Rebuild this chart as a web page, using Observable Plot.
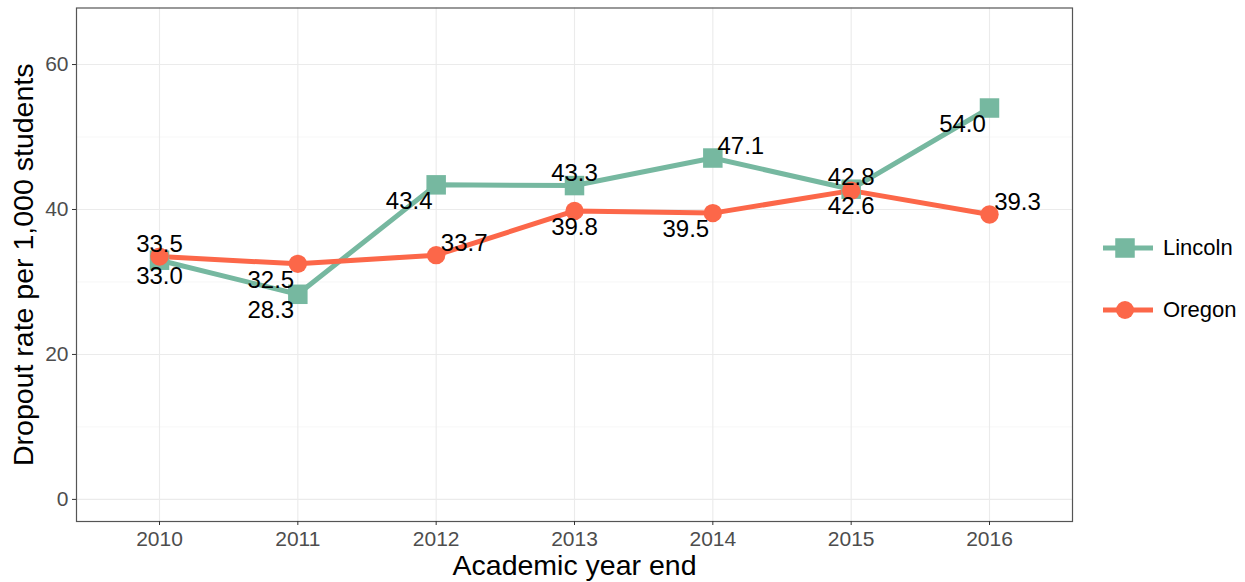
<!DOCTYPE html>
<html>
<head>
<meta charset="utf-8">
<script src="https://cdn.jsdelivr.net/npm/d3@7"></script>
<script src="https://cdn.jsdelivr.net/npm/@observablehq/plot@0.6"></script>
<style>
  html, body { margin: 0; padding: 0; background: #fff; }
  #wrap { position: relative; width: 1245px; height: 582px; font-family: "Liberation Sans", Arial, sans-serif; }
  #legend { position: absolute; left: 1100px; top: 224px; }
  .key { display: flex; align-items: center; height: 48px; margin-bottom: 14px; }
  .key span { font-size: 22px; color: #000; margin-left: 8px; }
</style>
</head>
<body>
<div id="wrap"><div id="chart"></div><div id="legend"></div></div>
<script>
// ---- data ----
const years = [2010, 2011, 2012, 2013, 2014, 2015, 2016];
const lincoln = [33.0, 28.3, 43.4, 43.3, 47.1, 42.8, 54.0];
const oregon  = [33.5, 32.5, 33.7, 39.8, 39.5, 42.6, 39.3];
const lincolnLabelPos = ["below", "below-left", "below-left", "above", "above-right", "above", "below-left"];
const oregonLabelPos  = ["above", "below-left", "above-right", "below", "below-left", "below", "above-right"];
const seriesNames = ["Lincoln", "Oregon"];
const seriesColors = ["#76B8A0", "#FC6749"];
const seriesSymbols = ["square", "circle"];
const yTicks = [0, 20, 40, 60];
const yMinor = [10, 30, 50];

const rows = [];
years.forEach((yr, i) => {
  rows.push({year: yr, value: lincoln[i], series: "Lincoln", pos: lincolnLabelPos[i]});
});
years.forEach((yr, i) => {
  rows.push({year: yr, value: oregon[i], series: "Oregon", pos: oregonLabelPos[i]});
});

const offsets = {
  "above": [0, -12],
  "below": [0, 16],
  "below-left": [-27, 16],
  "above-right": [28, -12]
};

const font = "Liberation Sans, Arial, sans-serif";
const marks = [
  Plot.ruleY(yMinor, {stroke: "#f2f2f2", strokeWidth: 0.6}),
  Plot.ruleY(yTicks, {stroke: "#ebebeb", strokeWidth: 1.1}),
  Plot.ruleX(years, {stroke: "#ebebeb", strokeWidth: 1.1}),
  Plot.frame({stroke: "#555", strokeWidth: 1.2}),
  Plot.axisX({ticks: years, tickSize: 4, tickFormat: () => "", stroke: "#333", label: null}),
  Plot.axisX({ticks: years, tickSize: 0, tickPadding: 10, tickFormat: d => String(d), fill: "#4d4d4d", fontSize: 21, label: null}),
  Plot.axisY({ticks: yTicks, tickSize: 4, tickFormat: () => "", stroke: "#333", label: null}),
  Plot.axisY({ticks: yTicks, tickSize: 0, tickPadding: 8, tickFormat: d => String(d), fill: "#4d4d4d", fontSize: 21, label: null}),
  Plot.text(["Academic year end"], {frameAnchor: "bottom", dy: 44, fontSize: 28.5, fill: "#000", lineAnchor: "middle", textAnchor: "middle"}),
  Plot.text(["Dropout rate per 1,000 students"], {frameAnchor: "left", dx: -53, rotate: -90, fontSize: 28.5, fill: "#000", lineAnchor: "middle", textAnchor: "middle"})
];
seriesNames.forEach((s, k) => {
  marks.push(Plot.line(rows.filter(d => d.series === s), {x: "year", y: "value", stroke: seriesColors[k], strokeWidth: 5}));
});
seriesNames.forEach((s, k) => {
  marks.push(Plot.dot(rows.filter(d => d.series === s), {x: "year", y: "value", fill: seriesColors[k], symbol: seriesSymbols[k], r: k === 0 ? 11 : 9.2, stroke: "none"}));
});
Object.entries(offsets).forEach(([pos, [dx, dy]]) => {
  marks.push(Plot.text(rows.filter(d => d.pos === pos), {x: "year", y: "value", text: d => d.value.toFixed(1), dx, dy, fontSize: 24, fill: "#000", lineAnchor: "middle"}));
});

const chart = Plot.plot({
  width: 1245,
  height: 582,
  marginLeft: 76,
  marginRight: 173,
  marginTop: 7.5,
  marginBottom: 61,
  style: {fontFamily: font, background: "#fff", overflow: "visible"},
  x: {type: "linear", domain: [2009.4, 2016.6]},
  y: {domain: [-3.05, 67.8]},
  marks
});
document.getElementById("chart").appendChild(chart);

// legend
const legend = document.getElementById("legend");
seriesNames.forEach((s, k) => {
  const row = document.createElement("div");
  row.className = "key";
  const sym = seriesSymbols[k] === "square"
    ? `<rect x="15.25" y="14.25" width="19.5" height="19.5" fill="${seriesColors[k]}"/>`
    : `<circle cx="25" cy="24" r="9" fill="${seriesColors[k]}"/>`;
  row.innerHTML = `<svg width="55" height="48"><line x1="3" x2="53" y1="24" y2="24" stroke="${seriesColors[k]}" stroke-width="5"/>${sym}</svg><span>${s}</span>`;
  legend.appendChild(row);
});
</script>
</body>
</html>
